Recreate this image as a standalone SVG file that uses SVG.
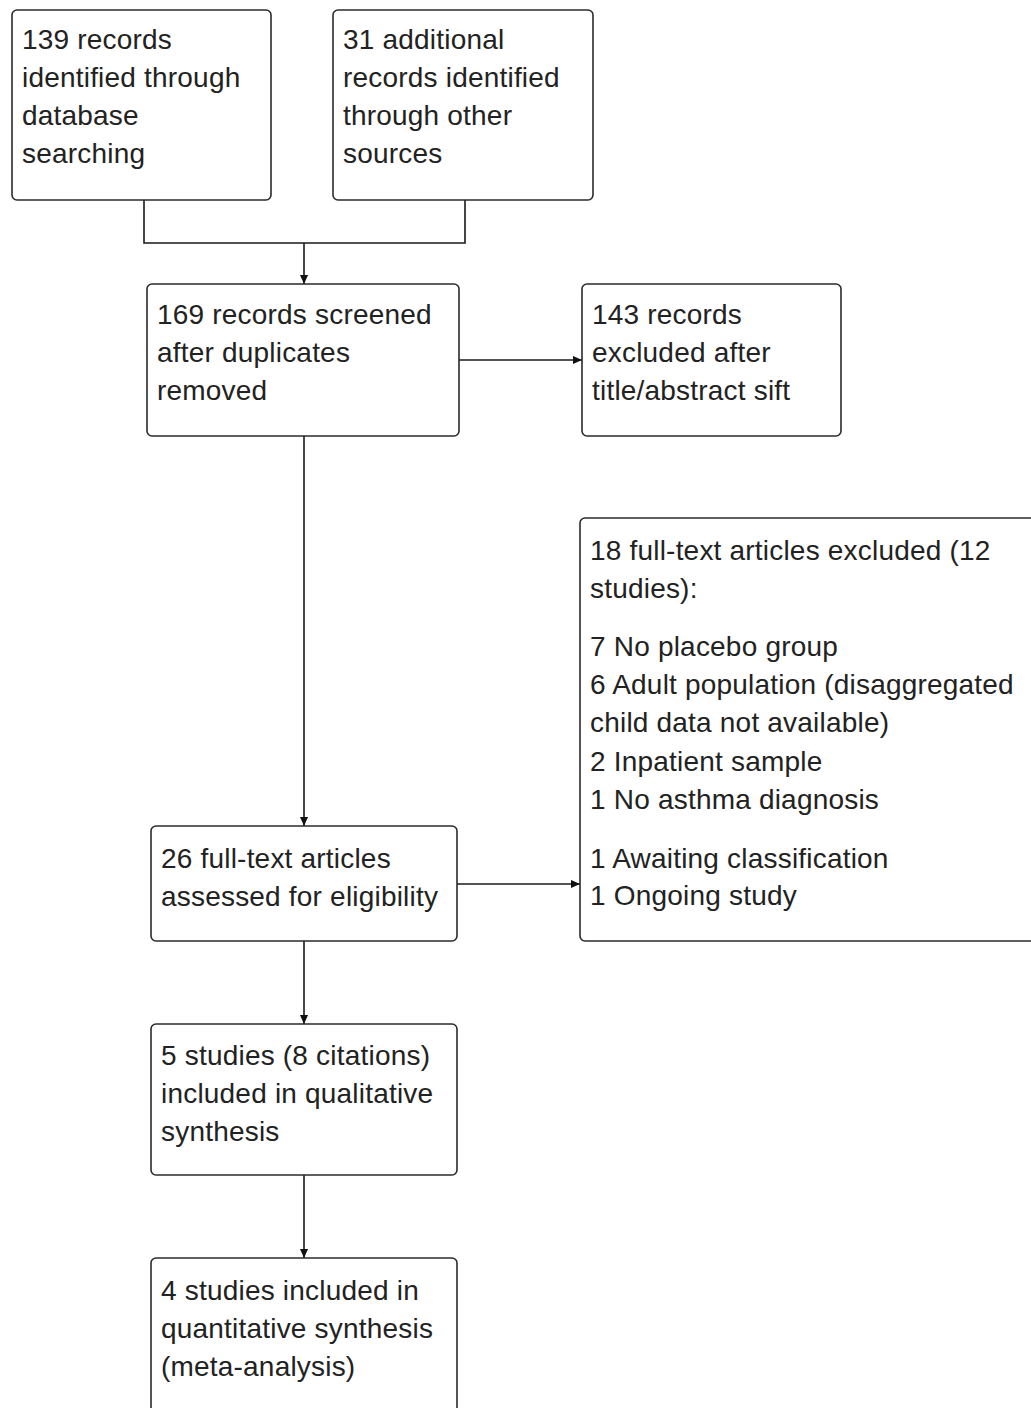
<svg xmlns="http://www.w3.org/2000/svg" width="1031" height="1408" viewBox="0 0 1031 1408">
<style>
.box{fill:#fff;stroke:#2b2b2b;stroke-width:1.6}
.t{font-family:"Liberation Sans",Arial,sans-serif;font-size:28px;letter-spacing:0.2px;fill:#222}
.c{fill:none;stroke:#1a1a1a;stroke-width:1.6}
</style>
<defs>
<marker id="ah" viewBox="0 0 10 10" refX="10" refY="5" markerWidth="10" markerHeight="9" markerUnits="userSpaceOnUse" orient="auto">
<path d="M0,0.5 L10,5 L0,9.5 Z" fill="#111"/>
</marker>
</defs>
<rect width="1031" height="1408" fill="#fff"/>
<g id="connectors">
<path class="c" d="M144,200 V243 H465 V200"/>
<path class="c" d="M304,243 V284" marker-end="url(#ah)"/>
<path class="c" d="M459,360 H582" marker-end="url(#ah)"/>
<path class="c" d="M304,436 V826" marker-end="url(#ah)"/>
<path class="c" d="M457,884 H580" marker-end="url(#ah)"/>
<path class="c" d="M304,941 V1024" marker-end="url(#ah)"/>
<path class="c" d="M304,1175 V1258" marker-end="url(#ah)"/>
</g>
<g id="n1"><rect class="box" x="12" y="10" width="259" height="190" rx="5"/>
<text class="t" x="22" y="49">139 records</text><text class="t" x="22" y="87">identified through</text><text class="t" x="22" y="125">database</text><text class="t" x="22" y="163">searching</text></g>
<g id="n2"><rect class="box" x="333" y="10" width="260" height="190" rx="5"/>
<text class="t" x="343" y="49">31 additional</text><text class="t" x="343" y="87">records identified</text><text class="t" x="343" y="125">through other</text><text class="t" x="343" y="163">sources</text></g>
<g id="n3"><rect class="box" x="147" y="284" width="312" height="152" rx="5"/>
<text class="t" x="157" y="324">169 records screened</text><text class="t" x="157" y="362">after duplicates</text><text class="t" x="157" y="400">removed</text></g>
<g id="n4"><rect class="box" x="582" y="284" width="259" height="152" rx="5"/>
<text class="t" x="592" y="324">143 records</text><text class="t" x="592" y="362">excluded after</text><text class="t" x="592" y="400">title/abstract sift</text></g>
<g id="n5"><rect class="box" x="151" y="826" width="306" height="115" rx="5"/>
<text class="t" x="161" y="868">26 full-text articles</text><text class="t" x="161" y="906">assessed for eligibility</text></g>
<g id="n6"><rect class="box" x="580" y="518" width="470" height="423" rx="5"/>
<text class="t" x="590" y="560">18 full-text articles excluded (12</text>
<text class="t" x="590" y="598">studies):</text>
<text class="t" x="590" y="656">7 No placebo group</text>
<text class="t" x="590" y="694">6 Adult population (disaggregated</text>
<text class="t" x="590" y="732">child data not available)</text>
<text class="t" x="590" y="771">2 Inpatient sample</text>
<text class="t" x="590" y="809">1 No asthma diagnosis</text>
<text class="t" x="590" y="868">1 Awaiting classification</text>
<text class="t" x="590" y="905">1 Ongoing study</text></g>
<g id="n7"><rect class="box" x="151" y="1024" width="306" height="151" rx="5"/>
<text class="t" x="161" y="1065">5 studies (8 citations)</text><text class="t" x="161" y="1103">included in qualitative</text><text class="t" x="161" y="1141">synthesis</text></g>
<g id="n8"><rect class="box" x="151" y="1258" width="306" height="170" rx="5"/>
<text class="t" x="161" y="1300">4 studies included in</text><text class="t" x="161" y="1338">quantitative synthesis</text><text class="t" x="161" y="1376">(meta-analysis)</text></g>
</svg>
